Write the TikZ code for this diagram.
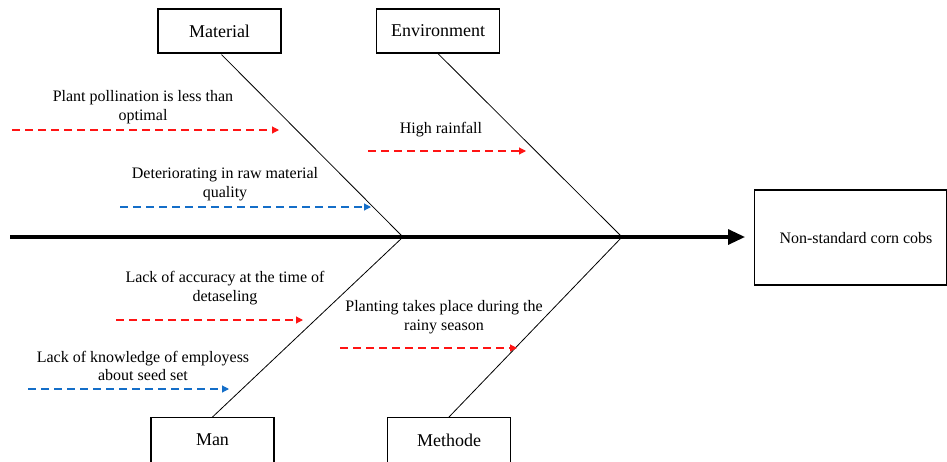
\documentclass[tikz,border=0pt]{standalone}
\usepackage{fontspec}
\setmainfont{Liberation Serif}
\usetikzlibrary{arrows.meta}
\definecolor{cred}{RGB}{255,20,20}
\definecolor{cblue}{RGB}{20,110,200}
\begin{document}
\begin{tikzpicture}[x=1pt,y=-1pt,
  cat/.style={draw,line width=1.2pt,minimum width=123pt,minimum height=44pt,inner sep=0pt,font=\fontsize{18}{20}\selectfont},
  catl/.style={inner sep=0pt,font=\fontsize{18}{20}\selectfont},
  eff/.style={draw,line width=1.4pt,minimum width=192pt,minimum height=95pt,inner sep=0pt},
  lbl/.style={align=center,inner sep=0pt,font=\fontsize{16}{18.5}\selectfont},
  bone/.style={line width=0.8pt},
  cause/.style={dashed,dash pattern=on 8pt off 5pt,line width=1.1pt,-{Triangle[length=7pt,width=7pt]}},
]
\useasboundingbox (0,0) rectangle (947,461);
% spine
\coordinate (s0) at (10,237);
\coordinate (s1) at (745,237);
\coordinate (j1) at (403,237);
\coordinate (j2) at (622,237);
\draw[line width=3.2pt,-{Triangle[length=17pt,width=15pt]}] (s0) -- (s1);
% effect
\node[eff] (effect) at (850.5,237.5) {};
\node[lbl] (effl) at (856,238) {Non-standard corn cobs};
% categories
\node[cat] (mat) at (219.5,31) {Material};
\node[cat] (env) at (438,31) {Environment};
\node[cat,minimum height=50pt,anchor=north] (man) at (212.5,417) {};
\node[catl] (manl) at (212.5,440) {Man};
\node[cat,minimum height=50pt,anchor=north] (met) at (449,417) {};
\node[catl] (metl) at (449,440) {Methode};
% bones
\draw[bone] (mat.south) ++(2,1) -- (j1);
\draw[bone] (env.south) -- (j2);
\draw[bone] (j1) -- (man.north);
\draw[bone] (j2) -- (met.north);
% causes
\node[lbl] (t1) at (143,107) {Plant pollination is less than\\optimal};
\coordinate (a1s) at (12,130); \coordinate (a1e) at (279,130);
\draw[cause,cred] (a1s) -- (a1e);
\node[lbl] (t2) at (225,184) {Deteriorating in raw material\\quality};
\coordinate (a2s) at (120,207); \coordinate (a2e) at (371,207);
\draw[cause,cblue] (a2s) -- (a2e);
\node[lbl] (t3) at (441,130) {High rainfall};
\coordinate (a3s) at (368,151); \coordinate (a3e) at (526,151);
\draw[cause,cred] (a3s) -- (a3e);
\node[lbl] (t4) at (225,288) {Lack of accuracy at the time of\\detaseling};
\coordinate (a4s) at (116,320); \coordinate (a4e) at (303,320);
\draw[cause,cred] (a4s) -- (a4e);
\node[lbl] (t5) at (143,366) {Lack of knowledge of employess\\about seed set};
\coordinate (a5s) at (28,389); \coordinate (a5e) at (229,389);
\draw[cause,cblue] (a5s) -- (a5e);
\node[lbl] (t6) at (444,317) {Planting takes place during the\\rainy season};
\coordinate (a6s) at (340,348); \coordinate (a6e) at (517,348);
\draw[cause,cred] (a6s) -- (a6e);
\end{tikzpicture}
\end{document}
